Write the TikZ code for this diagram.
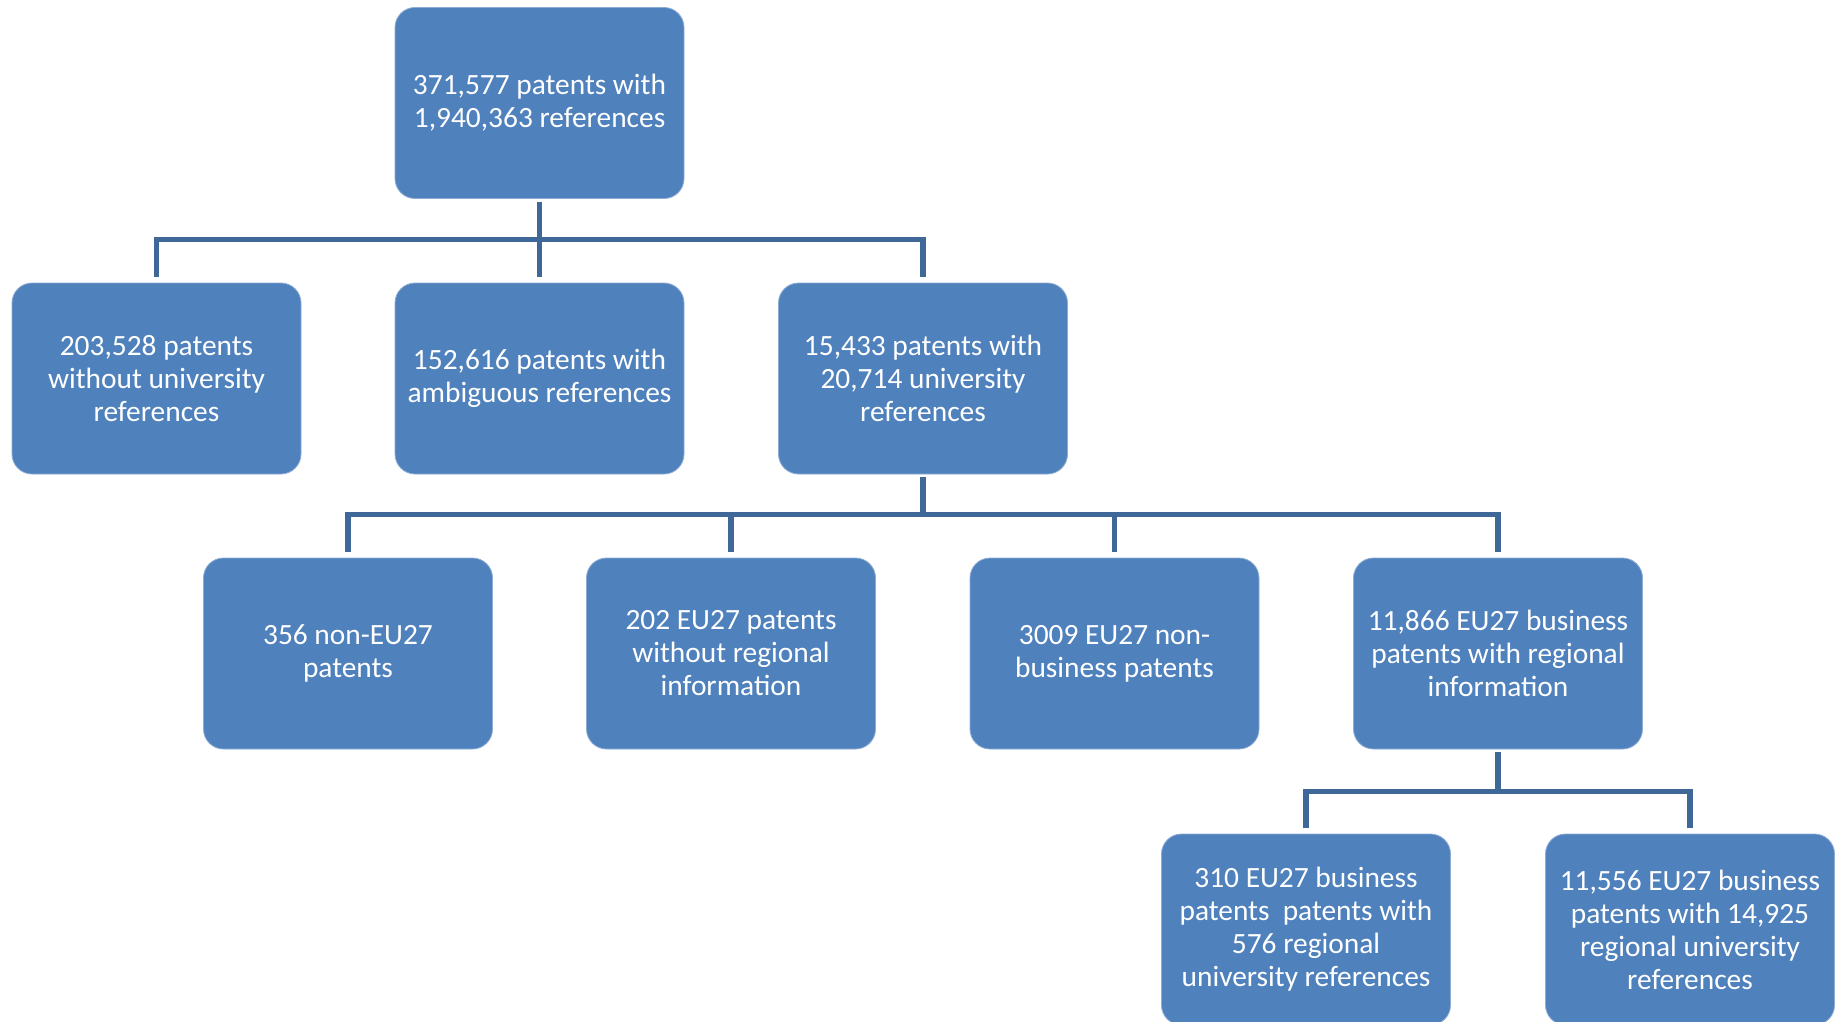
\documentclass[tikz,border=0pt]{standalone}
\usepackage{fontspec}
\setmainfont{Carlito}
\definecolor{boxfill}{RGB}{79,129,189}
\definecolor{boxedge}{RGB}{140,172,212}
\definecolor{conncol}{RGB}{63,103,152}
\begin{document}
\begin{tikzpicture}[x=1pt,y=-1pt,
  box/.style={rectangle, rounded corners=20pt, fill=boxfill, draw=boxedge, line width=0.8pt,
    minimum width=289pt, minimum height=191pt, inner sep=0pt, text=white, align=center,
    font=\fontsize{29.4}{33}\selectfont},
  conn/.style={draw=conncol, line width=5.5pt}]
\useasboundingbox (0,0) rectangle (1836,1022);
\fill[white] (0,0) rectangle (1836,1022);
\node[box] (top) at (539.5,103) {371,577 patents with\\1,940,363 references};
\node[box] (a1) at (156.5,378.5) {203,528 patents\\without university\\references};
\node[box] (a2) at (539.5,378.5) {152,616 patents with\\ambiguous references};
\node[box] (a3) at (923,378.5) {15,433 patents with\\20,714 university\\references};
\node[box] (b1) at (348,653.5) {356 non-EU27\\patents};
\node[box] (b2) at (731,653.5) {202 EU27 patents\\without regional\\information};
\node[box] (b3) at (1114.5,653.5) {3009 EU27 non-\\business patents};
\node[box] (b4) at (1498,653.5) {11,866 EU27 business\\patents with regional\\information};
\node[box] (c1) at (1306,929.5) {310 EU27 business\\patents\ \ patents with\\576 regional\\university references};
\node[box] (c2) at (1690,929.5) {11,556 EU27 business\\patents with 14,925\\regional university\\references};
\foreach \c in {a1,a2,a3}
  \draw[conn] ([yshift=-3pt]top.south) |- ([yshift=43pt]\c.north) -- ([yshift=6pt]\c.north);
\foreach \c in {b1,b2,b3,b4}
  \draw[conn] ([yshift=-3pt]a3.south) |- ([yshift=43pt]\c.north) -- ([yshift=6pt]\c.north);
\foreach \c in {c1,c2}
  \draw[conn] ([yshift=-3pt]b4.south) |- ([yshift=42pt]\c.north) -- ([yshift=6pt]\c.north);
\end{tikzpicture}
\end{document}
